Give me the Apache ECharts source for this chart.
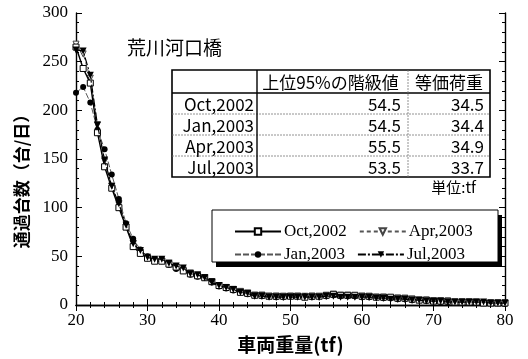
<!DOCTYPE html>
<html>
<head>
<meta charset="utf-8">
<script src="https://cdn.jsdelivr.net/npm/echarts@6/dist/echarts.min.js"></script>
<style>
  html, body { margin: 0; padding: 0; background: #fff; }
  #chart { width: 528px; height: 359px; }
</style>
</head>
<body>
<div id="chart"></div>
<script>
// Vehicle weight classes (tf)
const weights = [
  20,21,22,23,24,25,26,27,28,29,
  30,31,32,33,34,35,36,37,38,39,
  40,41,42,43,44,45,46,47,48,49,
  50,51,52,53,54,55,56,57,58,59,
  60,61,62,63,64,65,66,67,68,69,
  70,71,72,73,74,75,76,77,78,79,
  80
];

// Daily passing counts per weight class, one survey month each
const oct2002 = [
  265,243,228,177,142,120,100,80,60,53,
  48,45,45,42,39,35,32,30,28,24,
  20,18,16,13,12,10,10,9,9,9,
  9,9,8,9,9,10,11,10,10,10,
  9,9,8,8,8,7,7,6,5,5,
  4,4,4,3,3,3,3,2,2,2,
  2
];
const jan2003 = [
  218,224,208,180,160,134,109,84,68,57,
  50,46,47,41,37,35,31,29,28,23,
  19,17,15,13,11,10,9,9,8,8,
  9,9,9,8,9,9,10,9,9,9,
  8,8,8,7,7,6,6,5,5,4,
  4,3,3,3,3,2,2,2,2,2,
  1
];
const apr2003 = [
  268,258,233,185,148,122,103,80,63,54,
  48,46,45,43,39,36,33,30,28,24,
  20,18,16,14,12,10,10,9,9,8,
  9,9,9,9,8,9,11,10,10,9,
  9,8,8,8,7,7,6,6,5,5,
  4,4,4,3,3,3,2,2,2,2,
  2
];
const jul2003 = [
  262,261,236,185,149,122,104,82,63,56,
  49,47,47,43,40,38,32,31,28,23,
  20,18,16,13,12,9,9,8,8,8,
  8,8,8,8,8,9,9,8,8,8,
  8,8,7,7,6,6,6,5,5,4,
  4,4,3,3,3,3,3,3,2,2,
  2
];

const seriesNames = ['Oct,2002', 'Jan,2003', 'Apr,2003', 'Jul,2003'];

// Summary table
const tableHeader = ['', '上位95%の階級値', '等価荷重'];
const tableRows = ['Oct,2002', 'Jan,2003', 'Apr,2003', 'Jul,2003'];
const p95Values = ['54.5', '54.5', '55.5', '53.5'];
const equivLoads = ['34.5', '34.4', '34.9', '33.7'];
const unitText = '単位:tf';

const titleText = '荒川河口橋';
const xAxisTitle = '車両重量(tf)';
const yAxisTitle = '通過台数（台/日）';

const serif = 'Liberation Serif';
const cjk = 'Noto Sans CJK JP';

function pairs(vals) {
  return weights.map((w, i) => [w, vals[i]]);
}

// ---- table graphic ----
function buildTable() {
  const colX = [172, 257, 408, 490];
  const rowY = [70, 93, 114, 135, 156, 177];
  const els = [];
  els.push({
    type: 'rect', shape: { x: colX[0], y: rowY[0], width: colX[3] - colX[0], height: rowY[5] - rowY[0] },
    style: { fill: '#fff', stroke: '#000', lineWidth: 1.6 }, z: 100
  });
  // inner row lines
  for (let r = 1; r < 5; r++) {
    els.push({
      type: 'line', shape: { x1: colX[0], y1: rowY[r], x2: colX[3], y2: rowY[r] },
      style: { stroke: r === 1 ? '#000' : '#777', lineWidth: r === 1 ? 1.4 : 0.8, lineDash: r === 1 ? null : [2, 1] }, z: 101
    });
  }
  // inner column lines
  for (let c = 1; c < 3; c++) {
    els.push({
      type: 'line', shape: { x1: colX[c], y1: rowY[0], x2: colX[c], y2: rowY[5] },
      style: { stroke: c === 1 ? '#000' : '#777', lineWidth: c === 1 ? 1.4 : 0.8, lineDash: c === 1 ? null : [2, 1] }, z: 101
    });
  }
  const font = '17px "' + cjk + '"';
  // header
  for (let c = 1; c < 3; c++) {
    els.push({
      type: 'text', z: 102,
      style: { x: (colX[c] + colX[c + 1]) / 2 + (c === 1 ? -2 : 0), y: (rowY[0] + rowY[1]) / 2 + 1, text: tableHeader[c],
        font: font, fill: '#000', align: 'center', verticalAlign: 'middle' }
    });
  }
  for (let r = 0; r < tableRows.length; r++) {
    const cy = (rowY[r + 1] + rowY[r + 2]) / 2 + 1;
    els.push({ type: 'text', z: 102, style: { x: colX[1] - 3, y: cy, text: tableRows[r], font: font, fill: '#000', align: 'right', verticalAlign: 'middle' } });
    els.push({ type: 'text', z: 102, style: { x: colX[2] - 7, y: cy, text: p95Values[r], font: font, fill: '#000', align: 'right', verticalAlign: 'middle' } });
    els.push({ type: 'text', z: 102, style: { x: colX[3] - 6, y: cy, text: equivLoads[r], font: font, fill: '#000', align: 'right', verticalAlign: 'middle' } });
  }
  els.push({ type: 'text', z: 102, style: { x: 476, y: 187, text: unitText, font: '15px "' + cjk + '"', fill: '#000', align: 'right', verticalAlign: 'middle' } });
  return els;
}

// ---- legend frame with drop shadow ----
const legendFrame = [
  { type: 'rect', z: 90, shape: { x: 216, y: 215, width: 286, height: 52 }, style: { fill: '#000' } },
  { type: 'rect', z: 91, shape: { x: 212, y: 210, width: 286, height: 52 }, style: { fill: '#fff', stroke: '#000', lineWidth: 1 } }
];

const yTitle = {
  type: 'text', z: 50, x: 22, y: 177, rotation: Math.PI / 2,
  style: { text: yAxisTitle, font: 'bold 17px "' + cjk + '"', fill: '#000', align: 'center', verticalAlign: 'middle' }
};

const axisLineStyle = { show: true, lineStyle: { color: '#000', width: 1.4 } };
const tickStyle = { show: true, inside: true, length: 6, lineStyle: { color: '#000', width: 1 } };
const minorStyle = { show: true, splitNumber: 5, length: 3, lineStyle: { color: '#000', width: 1 } };

const chart = echarts.init(document.getElementById('chart'), null, { renderer: 'canvas' });
chart.setOption({
  animation: false,
  backgroundColor: '#fff',
  title: {
    text: titleText, left: 122, top: 33,
    textStyle: { fontFamily: cjk, fontSize: 19, fontWeight: 'normal', color: '#000' }
  },
  grid: { left: 76, right: 23, top: 13, bottom: 48 },
  legend: [
    {
      data: [seriesNames[0], seriesNames[2]], left: 229, top: 218, itemWidth: 46, itemHeight: 8, itemGap: 12,
      textStyle: { fontFamily: serif, fontSize: 17, color: '#000', padding: [0, 0, 0, -2] }, z: 95
    },
    {
      data: [seriesNames[1], seriesNames[3]], left: 229, top: 241, itemWidth: 46, itemHeight: 8, itemGap: 12,
      textStyle: { fontFamily: serif, fontSize: 17, color: '#000', padding: [0, 0, 0, -2] }, z: 95
    }
  ],
  xAxis: [
    {
      type: 'value', min: 20, max: 80, interval: 10, position: 'bottom',
      axisLine: axisLineStyle, axisTick: tickStyle, minorTick: minorStyle,
      splitLine: { show: false },
      axisLabel: { fontFamily: serif, fontSize: 17, color: '#000', margin: 7 },
      name: xAxisTitle, nameLocation: 'middle', nameGap: 30,
      nameTextStyle: { fontFamily: cjk, fontSize: 19, fontWeight: 'bold', color: '#000' }
    },
    {
      type: 'value', min: 20, max: 80, interval: 10, position: 'top',
      axisLine: axisLineStyle, axisTick: tickStyle, minorTick: minorStyle,
      splitLine: { show: false }, axisLabel: { show: false }
    }
  ],
  yAxis: [
    {
      type: 'value', min: 0, max: 300, interval: 50, position: 'left',
      axisLine: axisLineStyle, axisTick: tickStyle, minorTick: minorStyle,
      splitLine: { show: false },
      axisLabel: { fontFamily: serif, fontSize: 17, color: '#000', margin: 8 }
    },
    {
      type: 'value', min: 0, max: 300, interval: 50, position: 'right',
      axisLine: axisLineStyle, axisTick: tickStyle, minorTick: minorStyle,
      splitLine: { show: false }, axisLabel: { show: false }
    }
  ],
  graphic: [yTitle].concat(legendFrame, buildTable()),
  series: [
    {
      name: seriesNames[0], type: 'line', data: pairs(oct2002),
      symbol: 'rect', symbolSize: 6,
      itemStyle: { color: '#fff', borderColor: '#000', borderWidth: 1 },
      lineStyle: { color: '#000', width: 1.4 }, z: 4
    },
    {
      name: seriesNames[1], type: 'line', data: pairs(jan2003),
      symbol: 'circle', symbolSize: 6,
      itemStyle: { color: '#000', borderColor: '#000', borderWidth: 0 },
      lineStyle: { color: '#555', width: 1, type: [6, 2] }, z: 3
    },
    {
      name: seriesNames[2], type: 'line', data: pairs(apr2003),
      symbol: 'triangle', symbolRotate: 180, symbolSize: 6,
      itemStyle: { color: '#fff', borderColor: '#444', borderWidth: 1 },
      lineStyle: { color: '#555', width: 1, type: [4, 3] }, z: 2
    },
    {
      name: seriesNames[3], type: 'line', data: pairs(jul2003),
      symbol: 'triangle', symbolRotate: 180, symbolSize: 7,
      itemStyle: { color: '#000', borderColor: '#000', borderWidth: 0 },
      lineStyle: { color: '#000', width: 1.2, type: [8, 2, 2, 2] }, z: 5
    }
  ]
});
</script>
</body>
</html>
